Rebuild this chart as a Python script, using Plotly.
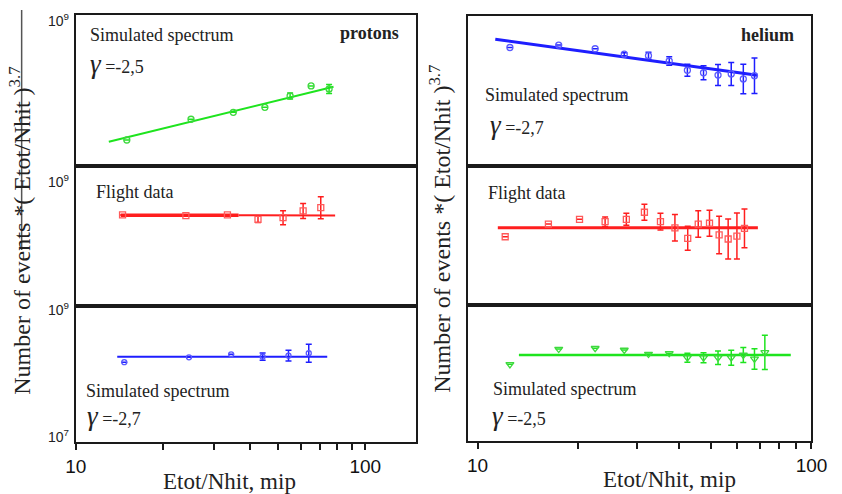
import plotly.graph_objects as go

W, H = 842, 494

# ---------------- data ----------------
# protons, simulated spectrum gamma=-2.5 (top left)
p_sim25_x = [15, 25, 35, 45, 55, 65, 75]
p_sim25_y = [2.21e7, 4.16e7, 5.14e7, 5.99e7, 8.46e7, 1.15e8, 1.05e8]
p_sim25_ep = [None, None, None, None, 8.2e6, None, 1.55e7]
p_sim25_em = [None, None, None, None, 7.4e6, None, 1.35e7]
p_sim25_fit_x = [13.0, 77.7]
p_sim25_fit_y = [2.10e7, 1.12e8]

# protons, flight data (middle left)
p_flight_x = [14.5, 24.0, 33.4, 42.6, 52.0, 61.0, 70.2]
p_flight_y = [2.0e8, 1.95e8, 2.0e8, 1.73e8, 1.83e8, 2.28e8, 2.54e8]
p_flight_ep = [None, None, None, 1.97e7, 4.74e7, 6.36e7, 1.107e8]
p_flight_em = [None, None, None, 1.77e7, 3.77e7, 4.97e7, 7.70e7]
p_flight_fit_x = [14.3, 36.5, 78.7]
p_flight_fit_y = [1.98e8, 1.98e8, 1.96e8]

# protons, simulated spectrum gamma=-2.7 (bottom left)
p_sim27_x = [14.7, 24.6, 34.4, 44.2, 54.3, 63.8]
p_sim27_y = [1.49e8, 1.76e8, 1.95e8, 1.80e8, 1.86e8, 2.02e8]
p_sim27_ep = [None, None, None, 2.38e7, 3.66e7, 7.17e7]
p_sim27_em = [None, None, None, 2.11e7, 3.05e7, 5.29e7]
p_sim27_fit_x = [13.9, 73.9]
p_sim27_fit_y = [1.80e8, 1.80e8]

# helium, simulated spectrum gamma=-2.7 (top right)
h_sim27_x = [12.5, 17.5, 22.5, 27.5, 32.5, 37.5, 42.5, 47.5, 52.5, 57.5, 62.5, 67.5]
h_sim27_y = [3.80e8, 4.10e8, 3.66e8, 3.10e8, 2.96e8, 2.51e8, 1.89e8, 1.75e8,
             1.63e8, 1.69e8, 1.45e8, 1.60e8]
h_sim27_ep = [None, None, None, 1.46e7, 3.37e7, 3.46e7, 3.82e7, 4.18e7,
              6.19e7, 7.13e7, 8.32e7, 1.16e8]
h_sim27_em = [None, None, None, 1.40e7, 3.03e7, 3.04e7, 3.18e7, 3.38e7,
              4.50e7, 5.02e7, 5.29e7, 6.74e7]
h_sim27_fit_x = [11.3, 68.8]
h_sim27_fit_y = [4.89e8, 1.62e8]

# helium, flight data (middle right)
h_flight_x = [12.1, 16.3, 20.2, 24.1, 27.9, 31.6, 35.3, 39.0, 42.6, 45.8,
              49.5, 52.9, 56.3, 59.8, 63.0]
h_flight_y = [9.6e7, 1.46e8, 1.71e8, 1.58e8, 1.71e8, 2.16e8, 1.58e8, 1.29e8,
              9.1e7, 1.46e8, 1.50e8, 1.02e8, 8.9e7, 9.8e7, 1.27e8]
h_flight_ep = [None, None, None, 2.69e7, 3.74e7, 6.54e7, 5.02e7, 7.08e7,
               4.45e7, 8.02e7, 8.07e7, 8.79e7, 8.37e7, 1.12e8, 1.14e8]
h_flight_em = [None, None, None, 2.29e7, 3.08e7, 5.03e7, 3.81e7, 4.57e7,
               2.99e7, 5.17e7, 5.25e7, 4.72e7, 4.32e7, 5.22e7, 6.01e7]
h_flight_fit_x = [11.5, 69.1]
h_flight_fit_y = [1.29e8, 1.29e8]

# helium, simulated spectrum gamma=-2.5 (bottom right)
h_sim25_x = [12.5, 17.5, 22.5, 27.5, 32.5, 37.5, 42.5, 47.5, 52.5, 57.5, 62.5, 67.5, 72.5]
h_sim25_y = [1.34e8, 2.25e8, 2.31e8, 2.18e8, 1.90e8, 1.95e8, 1.68e8, 1.68e8,
             1.68e8, 1.68e8, 1.84e8, 1.61e8, 2.01e8]
h_sim25_ep = [None, None, None, None, None, None, 2.76e7, 3.12e7, 4.30e7,
              4.84e7, 5.30e7, 6.70e7, 1.59e8]
h_sim25_em = [None, None, None, None, None, None, 2.37e7, 2.64e7, 3.43e7,
              3.76e7, 4.12e7, 4.73e7, 8.88e7]
h_sim25_fit_x = [13.3, 86.7]
h_sim25_fit_y = [1.84e8, 1.84e8]

x_tick_vals = [10, 20, 30, 40, 50, 60, 70, 80, 90, 100]
x_tick_text = ["10", "", "", "", "", "", "", "", "", "100"]
y_tick_labels_left = ["10<sup>9</sup>", "10<sup>9</sup>", "10<sup>9</sup>", "10<sup>7</sup>"]
x_title = "Etot/Nhit, mip"
y_title = "Number of events *( Etot/Nhit )<sup>3.7</sup>"

GREEN, GREEN_M = "#1ee41e", "#3ed83e"
RED, RED_M = "#ff1e1e", "#ff5a5a"
BLUE, BLUE_M = "#1e1eff", "#5a5aff"


def px(x):
    return x / W


def py(y):
    return 1 - y / H


fig = go.Figure()


def add_panel(n, fx, fy, x, y, ep, em, color, mcolor, symbol, msize, lw):
    xa, ya = ("x" if n == 1 else f"x{n}"), ("y" if n == 1 else f"y{n}")
    fig.add_trace(go.Scatter(x=fx, y=fy, mode="lines", xaxis=xa, yaxis=ya,
                             line=dict(color=color, width=lw), showlegend=False,
                             hoverinfo="skip"))
    fig.add_trace(go.Scatter(
        x=x, y=y, mode="markers", xaxis=xa, yaxis=ya, showlegend=False,
        marker=dict(symbol=symbol, size=msize, color=mcolor,
                    line=dict(color=mcolor, width=1.3)),
        error_y=dict(type="data", symmetric=False, array=ep, arrayminus=em,
                     color=color, thickness=1.5, width=3)))


add_panel(1, p_sim25_fit_x, p_sim25_fit_y, p_sim25_x, p_sim25_y, p_sim25_ep, p_sim25_em,
          GREEN, GREEN_M, "circle-open", 6, 2)
# flight data: thicker first segment
fig.add_trace(go.Scatter(x=p_flight_fit_x[:2], y=p_flight_fit_y[:2], mode="lines",
                         xaxis="x2", yaxis="y2", line=dict(color=RED, width=3.5),
                         showlegend=False, hoverinfo="skip"))
add_panel(2, p_flight_fit_x[1:], p_flight_fit_y[1:], p_flight_x, p_flight_y,
          p_flight_ep, p_flight_em, RED, RED_M, "square-open", 6, 2)
add_panel(3, p_sim27_fit_x, p_sim27_fit_y, p_sim27_x, p_sim27_y, p_sim27_ep, p_sim27_em,
          BLUE, BLUE_M, "circle-open", 5, 2)
add_panel(4, h_sim27_fit_x, h_sim27_fit_y, h_sim27_x, h_sim27_y, h_sim27_ep, h_sim27_em,
          BLUE, BLUE_M, "circle-open", 6, 3)
add_panel(5, h_flight_fit_x, h_flight_fit_y, h_flight_x, h_flight_y, h_flight_ep,
          h_flight_em, RED, RED_M, "square-open", 6, 3)
add_panel(6, h_sim25_fit_x, h_sim25_fit_y, h_sim25_x, h_sim25_y, h_sim25_ep, h_sim25_em,
          GREEN, GREEN_M, "triangle-down-open", 7, 2.5)

# ---------------- axes ----------------
left_x = [px(67), px(418)]
right_x = [px(472), px(827)]
left_rows = [(15, 166), (166, 306), (306, 442)]
right_rows = [(16, 166), (166, 305), (305, 441)]
left_xrange = [1, 2.174]
right_xrange = [0.971, 2.0]

layout = dict(width=W, height=H, margin=dict(l=0, r=0, t=0, b=0),
              paper_bgcolor="white", plot_bgcolor="white", showlegend=False)

tickfont = dict(family="Liberation Sans, Arial, sans-serif", size=19, color="#111")

for n in range(1, 7):
    left = n <= 3
    r = (n - 1) % 3
    top, bot = (left_rows if left else right_rows)[r]
    xkey = "xaxis" if n == 1 else f"xaxis{n}"
    ykey = "yaxis" if n == 1 else f"yaxis{n}"
    bottom = r == 2
    xa = dict(domain=left_x if left else right_x, type="log",
              range=left_xrange if left else right_xrange,
              anchor="y" if n == 1 else f"y{n}",
              showline=True, mirror=True, linecolor="#1a1a1a", linewidth=2,
              showgrid=False, zeroline=False)
    if bottom:
        xa.update(tickmode="array", tickvals=x_tick_vals, ticktext=x_tick_text,
                  ticks="outside", ticklen=6, tickwidth=1.5, tickcolor="#1a1a1a",
                  tickfont=tickfont, ticklabeloverflow="allow")
    else:
        xa.update(showticklabels=False, ticks="")
    ya = dict(domain=[py(bot), py(top)], type="log", range=[7, 9],
              anchor="x" if n == 1 else f"x{n}",
              showline=True, mirror=True, linecolor="#1a1a1a", linewidth=2,
              showgrid=False, zeroline=False, showticklabels=False, ticks="")
    layout[xkey] = xa
    layout[ykey] = ya

fig.update_layout(**layout)

# ---------------- texts ----------------
SERIF = "Liberation Serif, Times New Roman, serif"


def note(text, x, y, size=18, xanchor="left", angle=0, family=SERIF, color="#222"):
    fig.add_annotation(text=text, x=px(x), y=py(y), xref="paper", yref="paper",
                       xanchor=xanchor, yanchor="middle", showarrow=False,
                       textangle=angle, font=dict(family=family, size=size, color=color))


def gamma(val):
    return "<span style='font-size:27px'><i>γ</i></span> =-" + val


note("Simulated spectrum", 80, 35)
note(gamma("2,5"), 80, 64)
note("<b>protons</b>", 403, 33, xanchor="right")
note("Flight data", 86, 192)
note("Simulated spectrum", 75, 391)
note(gamma("2,7"), 76, 416)

note("<b>helium</b>", 752, 35)
note("Simulated spectrum", 488, 95)
note(gamma("2,7"), 493, 125)
note("Flight data", 491, 193)
note("Simulated spectrum", 496, 389)
note(gamma("2,5"), 495, 416)

# y tick labels on the left
for lab, yy in zip(y_tick_labels_left, [20, 181, 309, 436]):
    note(lab, 62, yy, size=14, xanchor="right",
         family="Liberation Sans, Arial, sans-serif", color="#222")

# axis titles
note(x_title, 226, 481, size=23, xanchor="center")
note(x_title, 680, 479, size=23, xanchor="center")
note(y_title, 9, 231, size=24, xanchor="center", angle=-90)
note(y_title, 443, 229, size=24, xanchor="center", angle=-90)

fig.add_shape(type="line", xref="paper", yref="paper", x0=px(11), x1=px(11),
              y0=py(10), y1=py(250), line=dict(color="#555", width=1.5))

fig.write_html("out.html", config={"displayModeBar": False},
               post_script="document.body.style.margin='0px';"
                           "document.body.style.overflow='hidden';")
